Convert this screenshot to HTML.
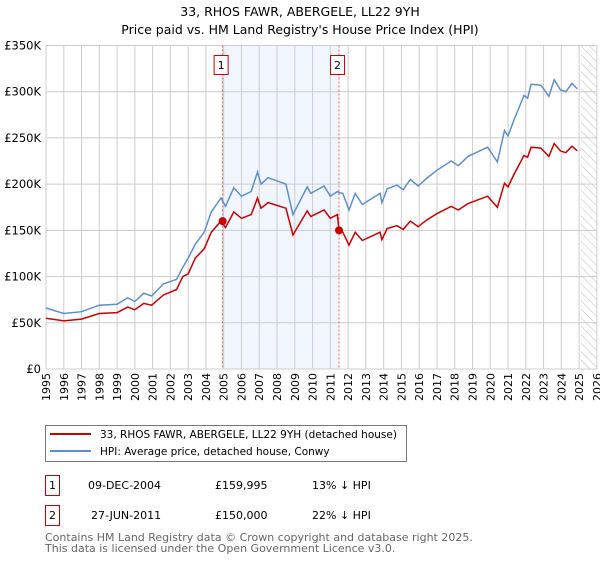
<!DOCTYPE html>
<html><head><meta charset="utf-8"><style>
body{margin:0;background:#fff;font-family:"Liberation Sans","DejaVu Sans",sans-serif;}
</style></head><body>
<svg width="600" height="560" xmlns="http://www.w3.org/2000/svg" font-family="DejaVu Sans, Liberation Sans, sans-serif">
<defs><pattern id="hatch" width="6" height="6" patternUnits="userSpaceOnUse" patternTransform="rotate(-45)"><line x1="0" y1="0" x2="0" y2="6" stroke="#bbb" stroke-width="1"/></pattern></defs>
<text x="300" y="16" text-anchor="middle" font-size="12.5">33, RHOS FAWR, ABERGELE, LL22 9YH</text>
<text x="300" y="34" text-anchor="middle" font-size="12.5">Price paid vs. HM Land Registry's House Price Index (HPI)</text>
<g id="plot"></g>
<g>
<rect x="45.5" y="425.5" width="361" height="36" fill="#fff" stroke="#777"/>
<line x1="50" y1="434" x2="91" y2="434" stroke="#cc0000" stroke-width="2"/>
<text x="100" y="438" font-size="10.5">33, RHOS FAWR, ABERGELE, LL22 9YH (detached house)</text>
<line x1="50" y1="451" x2="91" y2="451" stroke="#5b8fd0" stroke-width="2"/>
<text x="100" y="455" font-size="10.5">HPI: Average price, detached house, Conwy</text>
</g>
<g font-size="11">
<rect x="45.5" y="475.5" width="14" height="20" fill="#fff" stroke="#cc0000"/>
<text x="52.5" y="489" text-anchor="middle">1</text>
<text x="88" y="489">09-DEC-2004</text><text x="215" y="489">£159,995</text><text x="312" y="489">13% ↓ HPI</text>
</g>
<g font-size="11">
<rect x="45.5" y="505.5" width="14" height="20" fill="#fff" stroke="#cc0000"/>
<text x="52.5" y="519" text-anchor="middle">2</text>
<text x="91" y="519">27-JUN-2011</text><text x="215" y="519">£150,000</text><text x="312" y="519">22% ↓ HPI</text>
</g>
<text x="45" y="541" font-size="11" fill="#666">Contains HM Land Registry data © Crown copyright and database right 2025.</text>
<text x="45" y="552" font-size="11" fill="#666">This data is licensed under the Open Government Licence v3.0.</text>
</svg>
<script>
const dates=[1995,1996,1997,1998,1999,1999.6,2000,2000.5,2000.95,2001.6,2002.35,2002.7,2003,2003.4,2003.9,2004.3,2004.85,2005.1,2005.57,2006,2006.55,2006.9,2007.1,2007.5,2008.5,2008.9,2009.7,2009.9,2010.65,2011,2011.4,2011.49,2011.7,2012.05,2012.4,2012.8,2013.8,2013.9,2014.2,2014.75,2015.1,2015.5,2015.95,2016.4,2017,2017.8,2018.2,2018.75,2019.85,2020.4,2020.8,2021,2021.35,2021.9,2022.1,2022.3,2022.85,2023.3,2023.6,2023.95,2024.25,2024.6,2024.9];
const hpiValues=[66,60,62,69,70,77,73,82,79,92,97,110,120,135,148,170,185,176,196,187,192,213,200,207,200,167,197,190,198,187,192,191,190,172,190,178,190,180,195,199,194,205,198,206,215,225,220,230,240,224,258,252,270,296,293,308,307,295,313,302,300,309,303];
const priceValues=[55,52,54,60,61,67,64,71,69,80,86,100,103,120,130,148,160,153,170,163,167,185,174,180,174,145,171,165,172,163,167,150,148,134,148,139,148,140,152,155,151,160,154,161,168,176,172,179,187,175,201,197,211,231,229,240,239,230,244,236,234,241,236];
const saleDates=[2004.94,2011.49];
const saleValues=[159.995,150];
const yTicks=[0,50,100,150,200,250,300,350];
const yLabels=["£0","£50K","£100K","£150K","£200K","£250K","£300K","£350K"];
const xYears=[];for(let y=1995;y<=2026;y++)xYears.push(y);
const X=y=>46+(y-1995)*17.77, Y=v=>369-v*(323.5/350);
const NS="http://www.w3.org/2000/svg",g=document.getElementById('plot');
function mk(t,a,p){const e=document.createElementNS(NS,t);for(const k in a)e.setAttribute(k,a[k]);(p||g).appendChild(e);return e;}
let e;
e=mk('rect',{x:X(saleDates[0]),y:Y(350),width:X(saleDates[1])-X(saleDates[0]),height:Y(0)-Y(350),fill:'#eef3fc',opacity:0.8});


e=mk('rect',{x:X(2025.1),y:Y(350),width:X(2026)-X(2025.1),height:Y(0)-Y(350),fill:'url(#hatch)'});


xYears.forEach(y=>{const l=mk('line',{x1:X(y),x2:X(y),y1:Y(350),y2:Y(0),stroke:'#ccc'});


const t=mk('text',{x:0,y:0,'font-size':11,'text-anchor':'end',transform:`translate(${X(y)+4},${Y(0)+4}) rotate(-90)`});t.textContent=y;

});
yTicks.forEach((v,i)=>{const l=mk('line',{x1:X(1995),x2:X(2026),y1:Y(v),y2:Y(v),stroke:'#ccc'});


const t=mk('text',{x:41,y:Y(v)+4,'font-size':11.5,'text-anchor':'end'});t.textContent=yLabels[i];

});
saleDates.forEach((d,i)=>{const l=mk('line',{x1:X(d),x2:X(d),y1:Y(350),y2:Y(0),stroke:'#e06060','stroke-dasharray':'2,2'});


const r=mk('rect',{x:X(d)-8.5,y:55.5,width:14,height:19,fill:'#fff',stroke:'#cc0000'});


const t=mk('text',{x:X(d)-1.5,y:69,'font-size':11,'text-anchor':'middle'});t.textContent=i+1;

});
const path=vals=>vals.map((v,i)=>(i?'L':'M')+X(dates[i]).toFixed(1)+','+Y(v).toFixed(1)).join('');
e=mk('path',{d:path(hpiValues),fill:'none',stroke:'#5b8fd0','stroke-width':1.5});


e=mk('path',{d:path(priceValues),fill:'none',stroke:'#cc0000','stroke-width':1.5});


saleDates.forEach((d,i)=>{const c=mk('circle',{cx:X(d),cy:Y(saleValues[i]),r:4,fill:'#cc0000'});

});
</script>
</body></html>
